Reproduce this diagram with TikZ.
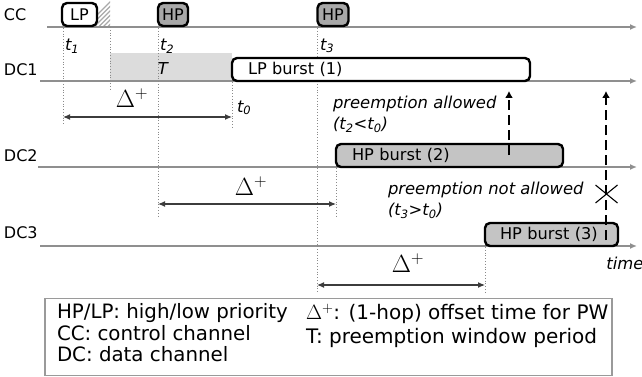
\documentclass[tikz,border=0pt]{standalone}
\usepackage{fontspec}
\setmainfont{DejaVu Sans}
\usetikzlibrary{arrows.meta}
\definecolor{lanegray}{HTML}{8F8F8F}
\definecolor{dotgray}{HTML}{8A8A8A}
\definecolor{ccfill}{HTML}{A8A8A8}
\definecolor{burstfill}{HTML}{C4C4C4}
\definecolor{winfill}{HTML}{DCDCDC}
\definecolor{hatchgray}{HTML}{A9A9A9}
\definecolor{spangray}{HTML}{3C3C3C}
\definecolor{legendgray}{HTML}{9A9A9A}
\begin{document}
\begin{tikzpicture}[x=1pt,y=-1pt,
  every node/.style={inner sep=0pt,outer sep=0pt},
  itxt/.style={font=\fontsize{16.4}{19}\selectfont\itshape},
  chan/.style={font=\fontsize{16}{19}\selectfont,anchor=west},
  lane/.style={draw=lanegray,line width=1.4pt,-{Latex[length=7pt,width=6pt]}},
  guide/.style={draw=dotgray,line width=0.7pt,dash pattern=on 0.8pt off 2pt},
  ctrl/.style={draw=black,line width=2.4pt,rounded corners=5pt,
    font=\fontsize{16}{19}\selectfont,minimum height=23pt},
  burst/.style={draw=black,line width=2.4pt,rounded corners=5pt,
    font=\fontsize{16.2}{19}\selectfont,minimum height=23pt,align=left},
  span/.style={draw=spangray,line width=1.1pt,
    {Latex[length=7pt,width=6pt]}-{Latex[length=7pt,width=6pt]}},
  delta/.style={font=\fontsize{23}{23}\selectfont},
  preempt/.style={draw=black,line width=2.4pt,dash pattern=on 10pt off 5pt,
    -{Latex[length=7pt,width=8pt]}},
]
\useasboundingbox (0,0) rectangle (642,377);

% preemption window T on DC1
\fill[winfill] (110,53) rectangle (232,81);

% channel names
\node[chan] (lcc)  at (4,15)  {CC};
\node[chan] (ldc1) at (4,70)  {DC1};
\node[chan] (ldc2) at (4,156) {DC2};
\node[chan] (ldc3) at (4,233) {DC3};

% time axes
\coordinate (cc-s)  at (47,27);  \coordinate (cc-e)  at (637,27);
\coordinate (dc1-s) at (40,81);  \coordinate (dc1-e) at (637,81);
\coordinate (dc2-s) at (38,167); \coordinate (dc2-e) at (637,167);
\coordinate (dc3-s) at (40,246); \coordinate (dc3-e) at (637,246);
\draw[lane] (cc-s)  -- (cc-e);
\draw[lane] (dc1-s) -- (dc1-e);
\draw[lane] (dc2-s) -- (dc2-e);
\draw[lane] (dc3-s) -- (dc3-e);

% dotted time markers
\draw[guide] (63,28)  -- (63,125);
\draw[guide] (110,27) -- (110,89);
\draw[guide] (158,28) -- (158,216);
\draw[guide] (232,82) -- (232,129);
\draw[guide] (317,28) -- (317,292);
\draw[guide] (336,168) -- (336,216);
\draw[guide] (485,247) -- (485,292);

% hatched tail after the LP control packet
\begin{scope}
  \clip (97,2) rectangle (110,26);
  \foreach \k in {0,...,9}
    \draw[hatchgray,line width=1.4pt] (82+4.5*\k,30) -- (82+4.5*\k+30,0);
\end{scope}

% control packets
\node[ctrl,fill=white,minimum width=35pt]  (lp)  at (79.5,14.5)  {LP};
\node[ctrl,fill=ccfill,minimum width=30pt] (hp1) at (173,14.5)   {HP};
\node[ctrl,fill=ccfill,minimum width=31pt] (hp2) at (333,14.5)   {HP};

% time labels
\node[itxt,anchor=west] (t1) at (65,46)  {t\textsubscript{1}};
\node[itxt,anchor=west] (t2) at (160,46) {t\textsubscript{2}};
\node[itxt,anchor=west] (t3) at (320,46) {t\textsubscript{3}};
\node[itxt,anchor=west] (t0) at (237,108) {t\textsubscript{0}};
\node[itxt] (T) at (163,69) {T};

% data bursts
\node[burst,fill=white,anchor=south west,inner xsep=16pt,text width=266pt]
  (b1) at (232,81) {LP burst (1)};
\node[burst,fill=burstfill,anchor=south west,inner xsep=16pt,text width=195pt]
  (b2) at (336,167) {HP burst (2)};
\node[burst,fill=burstfill,anchor=south west,inner xsep=15pt,text width=103pt]
  (b3) at (485,246) {HP burst (3)};

% offset time spans
\coordinate (s1l) at (63,117);  \coordinate (s1r) at (232,117);
\coordinate (s2l) at (158,204); \coordinate (s2r) at (336,204);
\coordinate (s3l) at (317,285); \coordinate (s3r) at (485,285);
\draw[span] (s1l) -- (s1r);
\draw[span] (s2l) -- (s2r);
\draw[span] (s3l) -- (s3r);
\node[delta] (d1) at (132,98)  {$\Delta^{+}$};
\node[delta] (d2) at (251,186) {$\Delta^{+}$};
\node[delta] (d3) at (408,263) {$\Delta^{+}$};

% preemption annotations
\node[itxt,anchor=west] (pa)  at (333,104) {preemption allowed};
\node[itxt,anchor=west] (pa2) at (333,125) {(t\textsubscript{2}<t\textsubscript{0})};
\node[itxt,anchor=west] (pn)  at (388,190) {preemption not allowed};
\node[itxt,anchor=west] (pn2) at (388,211) {(t\textsubscript{3}>t\textsubscript{0})};
\node[itxt] (time) at (625,263) {time};

% preemption attempts
\coordinate (a1s) at (509,155); \coordinate (a1e) at (509,91);
\coordinate (a2s) at (606,240); \coordinate (a2e) at (606,91);
\draw[preempt] (a1s) -- (a1e);
\draw[preempt] (a2s) -- (a2e);
\coordinate (x0) at (606.5,194);
\draw[black,line width=1.1pt] ([shift={(-11,-9)}]x0) -- ([shift={(11,9)}]x0)
                              ([shift={(-11,9)}]x0) -- ([shift={(11,-9)}]x0);

% legend
\node[draw=legendgray,line width=1.3pt,minimum width=567pt,minimum height=77pt,
  anchor=north west] (legend) at (45,298.5) {};
\node[anchor=north west,align=left,font=\fontsize{19.8}{21.6}\selectfont]
  (legl) at (57,303.5) {HP/LP: high/low priority\\CC: control channel\\DC: data channel};
\node[anchor=north west,align=left,font=\fontsize{20}{24}\selectfont]
  (legr) at (306,304) {$\Delta^{+}$: (1-hop) offset time for PW\\T: preemption window period};
\end{tikzpicture}
\end{document}
